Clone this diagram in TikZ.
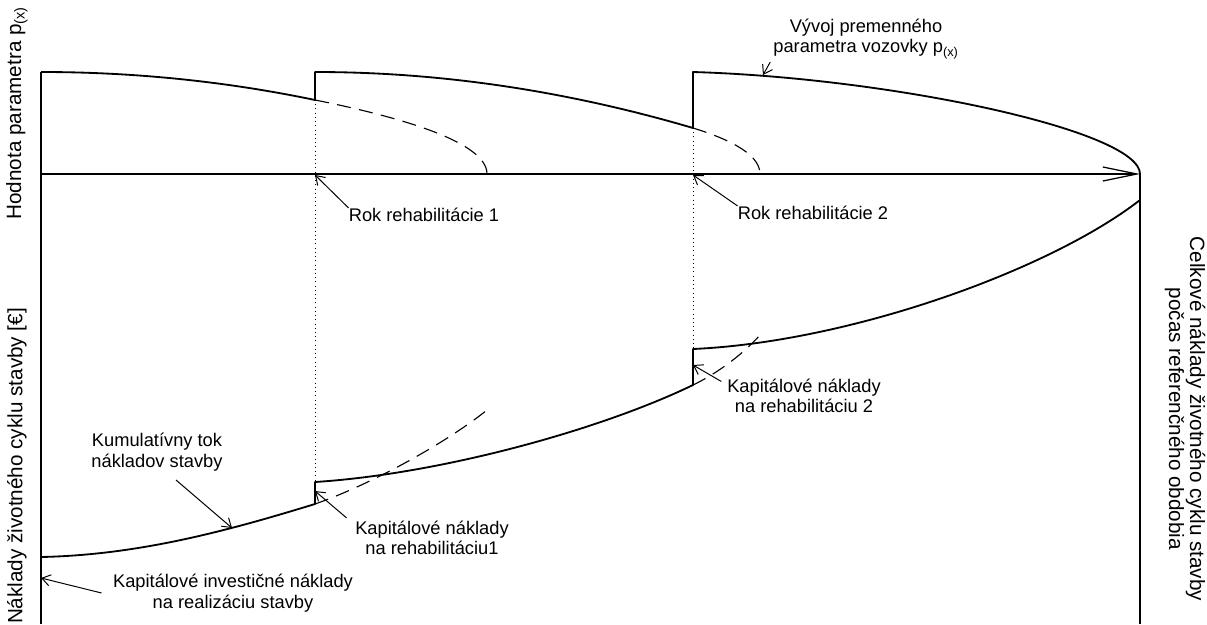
\documentclass[tikz,border=0pt]{standalone}
\usepackage{fontspec}
\setmainfont{Liberation Sans}
\usetikzlibrary{
    arrows.meta,
    positioning
}
\tikzstyle{curve} = [
    line width=1.3pt,
    line join=round
]
\tikzstyle{ghost} = [
    line width=0.8pt,
    dash pattern=on 10pt off 6pt
]
\tikzstyle{guide} = [
    line width=0.6pt,
    dash pattern=on 0.6pt off 2.4pt
]
\tikzstyle{pointer} = [
    line width=0.7pt,
    -{Straight Barb[length=6pt,width=8pt]}
]
\tikzstyle{lbl} = [
    font=\fontsize{13}{14.5}\selectfont,
    align=center,
    inner sep=0pt
]
\tikzstyle{axlbl} = [
    font=\fontsize{14.7}{15}\selectfont,
    align=center,
    inner sep=0pt
]

\begin{document}
\begin{tikzpicture}[
    x=0.025cm, y=-0.025cm,
    axis/.style={
        line width=0.9pt,
        -{Straight Barb[length=0.85cm,width=0.35cm]}
    }
]
\useasboundingbox (0,0) rectangle (1207,624);

\coordinate (origin) at (41,174);
\coordinate (tend) at (1140,174);
\coordinate (reh1) at (315,175);
\coordinate (reh2) at (693,175);

% osi
\draw[line width=1pt] (41,72) -- (41,624);
\draw[line width=1pt] (tend) -- (1140,624);
\draw[axis] (origin) -- (tend);

% parameter p(x)
\draw[curve] (41,72) .. controls (132,72) and (224,81) .. (315,100)
    -- (315,72) .. controls (441,72) and (567,91) .. (693,128)
    -- (693,72) .. controls (893,78) and (1140,131) .. (tend);
\draw[ghost] (315,100) .. controls (400,117) and (487,142) .. (487,174);
\draw[ghost] (693,128) .. controls (722,137) and (760,152) .. (760,174);

% naklady
\draw[curve] (41,557) .. controls (140,555) and (230,530) .. (315,504)
    -- (315,482) .. controls (440,474) and (600,430) .. (693,385)
    -- (693,349) .. controls (850,342) and (1050,270) .. (1140,200);
\draw[ghost] (315,504) .. controls (375,483) and (450,440) .. (487,410);
\draw[ghost] (693,385) .. controls (720,372) and (745,352) .. (760,335);

\draw[guide] (315,100) -- (315,482);
\draw[guide] (693,128) -- (693,349);

% popisy
\node[axlbl, rotate=90] (ytop) at (17,113) {Hodnota parametra p\textsubscript{(x)}};
\node[axlbl, rotate=90] (ybot) at (17,466) {Náklady životného cyklu stavby [€]};
\node[axlbl, rotate=-90] (total) at (1185,419)
    {Celkové náklady životného cyklu stavby\\počas referenčného obdobia};

\node[lbl] (year1) at (424,215) {Rok rehabilitácie 1};
\node[lbl] (year2) at (813,213) {Rok rehabilitácie 2};
\node[lbl] (trend) at (866,39)
    {Vývoj premenného\\parametra vozovky p\textsubscript{(x)}};
\node[lbl] (cumul) at (157,452) {Kumulatívny tok\\nákladov stavby};
\node[lbl] (capinv) at (233,593)
    {Kapitálové investičné náklady\\na realizáciu stavby};
\node[lbl] (cap1) at (432,538) {Kapitálové náklady\\na rehabilitáciu1};
\node[lbl] (cap2) at (804,396) {Kapitálové náklady\\na rehabilitáciu 2};

\coordinate (trendtip) at (763,75);
\coordinate (cumulfrom) at (176,480);
\coordinate (cumultip) at (232,528);
\coordinate (capinvtip) at (41,578);
\coordinate (cap1tip) at (315,491);
\coordinate (cap2tip) at (693,365);

\draw[pointer] (year1.north west) -- (reh1);
\draw[pointer] (year2.north west) -- (reh2);
\draw[pointer] ([xshift=-2pt,yshift=-2pt]trend.south west) -- (trendtip);
\draw[pointer] (cumulfrom) -- (cumultip);
\draw[pointer] ([xshift=-8pt]capinv.west) -- (capinvtip);
\draw[pointer] ([xshift=-6pt,yshift=2pt]cap1.north west) -- (cap1tip);
\draw[pointer] ([xshift=-4pt,yshift=-2pt]cap2.north west) -- (cap2tip);

\end{tikzpicture}
\end{document}
